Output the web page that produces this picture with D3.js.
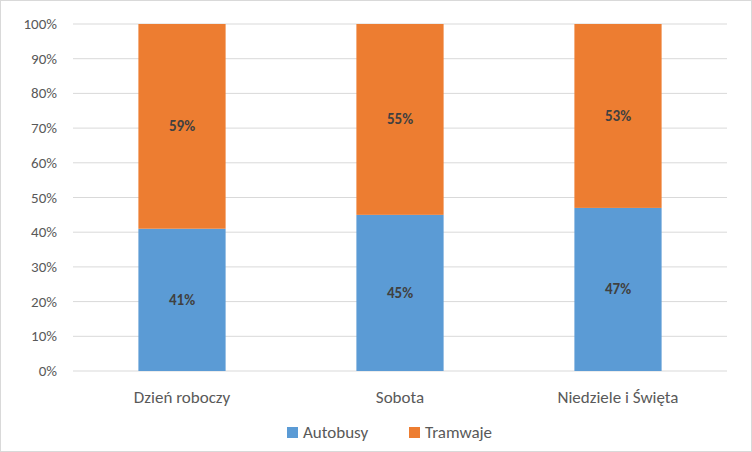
<!DOCTYPE html><html><head><meta charset="utf-8"><script src="https://cdn.jsdelivr.net/npm/d3@7"></script>
<style>body{margin:0;background:#fff}text{font-family:Calibri,Carlito,"Open Sans",sans-serif}</style></head><body><svg id="c" width="752" height="452"></svg>
<script>
const categories=["Dzień roboczy","Sobota","Niedziele i Święta"];
const autobusy=[41,45,47];
const tramwaje=[59,55,53];
const seriesNames=["Autobusy","Tramwaje"];
const colors=["#5b9bd5","#ed7d31"];
const ticks=[0,10,20,30,40,50,60,70,80,90,100];
const svg=d3.select("#c");
svg.append("rect").attr("x",0.5).attr("y",0.5).attr("width",751).attr("height",451).attr("fill","#fff").attr("stroke","#d9d9d9");
const L=73,R=727,T=24,B=371;
const x=d3.scaleBand().domain(categories).range([L,R]).paddingInner(0.6).paddingOuter(0.3);
const y=d3.scaleLinear().domain([0,100]).range([B,T]);
svg.append("g").selectAll("line").data(ticks).join("line").attr("x1",L).attr("x2",R).attr("y1",d=>y(d)).attr("y2",d=>y(d)).attr("stroke","#d9d9d9");
svg.append("g").selectAll("text").data(ticks).join("text").attr("x",57).attr("y",d=>y(d)+5).attr("text-anchor","end").attr("font-size",15).attr("fill","#595959").text(d=>d+"%");
const stack=d3.stack().keys([0,1]).value((d,k)=>d[k])(categories.map((c,i)=>[autobusy[i],tramwaje[i]]));
stack.forEach((s,k)=>{
 const g=svg.append("g");
 g.selectAll("rect").data(s).join("rect").attr("x",(d,i)=>x(categories[i])).attr("width",x.bandwidth()).attr("y",d=>y(d[1])).attr("height",d=>y(d[0])-y(d[1])).attr("fill",colors[k]);
 g.selectAll("text").data(s).join("text").attr("x",(d,i)=>x(categories[i])+x.bandwidth()/2).attr("y",d=>y((d[0]+d[1])/2)+5).attr("text-anchor","middle").attr("font-size",15).attr("font-weight","bold").attr("fill","#404040").text(d=>(d[1]-d[0])+"%");
});
svg.append("g").selectAll("text").data(categories).join("text").attr("x",d=>x(d)+x.bandwidth()/2).attr("y",403).attr("text-anchor","middle").attr("font-size",17).attr("fill","#595959").text(d=>d);
const lg=svg.append("g");
const lx=[287,409];
seriesNames.forEach((n,i)=>{
 lg.append("rect").attr("x",lx[i]).attr("y",427).attr("width",11).attr("height",11).attr("fill",colors[i]);
 lg.append("text").attr("x",lx[i]+16).attr("y",438).attr("font-size",17).attr("fill","#595959").text(n);
});
</script></body></html>
